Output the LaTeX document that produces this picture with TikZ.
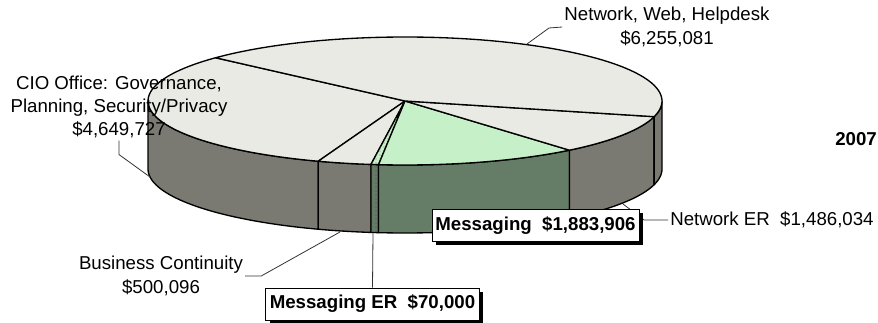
\documentclass[tikz,border=0pt]{standalone}
\usepackage{fontspec}
\setmainfont{Liberation Sans}
\usetikzlibrary{shadows,patterns}
\definecolor{topgray}{HTML}{EAEAE4}
\definecolor{sidegray}{HTML}{7A7A72}
\definecolor{topgreen}{HTML}{C6F0C8}
\definecolor{sidegreen}{HTML}{657C66}
\def\cx{405}\def\cy{101}\def\rx{257}\def\ry{64}\def\dep{68}
\begin{document}
\begin{tikzpicture}[x=0.75pt, y=-0.75pt, every node/.style={font=\fontsize{14}{17.5}\selectfont},
  pieface/.style={draw=black, line width=1pt, line join=round},
  leader/.style={draw=black!80, line width=0.6pt},
  lbl/.style={align=center, inner sep=1.5pt},
  valbox/.style={draw=black, line width=0.6pt, fill=white, inner xsep=2.5pt, minimum height=24pt,
    font=\fontsize{14}{17.5}\selectfont\bfseries,
    drop shadow={shadow xshift=3pt, shadow yshift=-3pt, fill=black, opacity=1}}]
\useasboundingbox (0,0) rectangle (878,323);
% side of the pie
\foreach \a/\b/\c in {180/250.26/sidegray, 250.26/262.39/sidegray, 262.39/264.09/sidegreen,
    264.09/309.78/sidegreen, 309.78/345.81/sidegray, 345.81/360/sidegray}
  \filldraw[pieface, fill=\c] plot[domain=\a:\b, samples=40] ({\cx+\rx*cos(\x)},{\cy-\ry*sin(\x)})
    -- plot[domain=\b:\a, samples=40] ({\cx+\rx*cos(\x)},{\cy+\dep-\ry*sin(\x)}) -- cycle;
\fill[pattern=dots, pattern color=black!70] plot[domain=262.39:264.09, samples=10] ({\cx+\rx*cos(\x)},{\cy-\ry*sin(\x)})
    -- plot[domain=264.09:262.39, samples=10] ({\cx+\rx*cos(\x)},{\cy+\dep-\ry*sin(\x)}) -- cycle;
% top of the pie
\foreach \a/\b/\c in {137.5/250.26/topgray, 250.26/262.39/topgray, 262.39/264.09/topgreen,
    264.09/309.78/topgreen, 309.78/345.81/topgray, 345.81/497.5/topgray}
  \filldraw[pieface, fill=\c] (\cx,\cy) -- plot[domain=\a:\b, samples=60] ({\cx+\rx*cos(\x)},{\cy-\ry*sin(\x)}) -- cycle;
\fill[pattern=dots, pattern color=black!50] (\cx,\cy) -- plot[domain=262.39:264.09, samples=10] ({\cx+\rx*cos(\x)},{\cy-\ry*sin(\x)}) -- cycle;

% labels
\node[lbl] (nwh) at (667,27) {Network, Web, Helpdesk\\\$6,255,081};
\node[lbl] (cio) at (119,107) {CIO Office: Governance,\\Planning, Security/Privacy\\\$4,649,727};
\node[lbl] (bc) at (161,276) {Business Continuity\\\$500,096};
\node[lbl, anchor=west] (ner) at (668,220) {Network ER\ \ \$1,486,034};
\node[lbl, anchor=west, font=\fontsize{14}{17.5}\selectfont\bfseries] (yr) at (833,139) {2007};

% leader ends on the pie
\coordinate (pNWH) at (527,44);
\coordinate (pCIO) at (150,177);
\coordinate (pBC) at (340,232);
\coordinate (pMER) at (373,233);
\coordinate (pNER) at (623,204);
\draw[leader] (pNWH) -- ++(22,-16) -- (nwh.west);
\draw[leader] (cio.south) -- ++(0,14) -- (pCIO);
\draw[leader] (bc.east) -- ++(16,0) -- (pBC);
\draw[leader] (pNER) -- ++(21,16) -- (ner.west);

\node[valbox] (msg) at (535.5,225.5) {Messaging\ \ \$1,883,906};
\node[valbox, inner xsep=3pt] (mer) at (372.5,304) {Messaging ER\ \ \$70,000};
\draw[leader] (pMER) -- (mer.north);
\end{tikzpicture}
\end{document}
